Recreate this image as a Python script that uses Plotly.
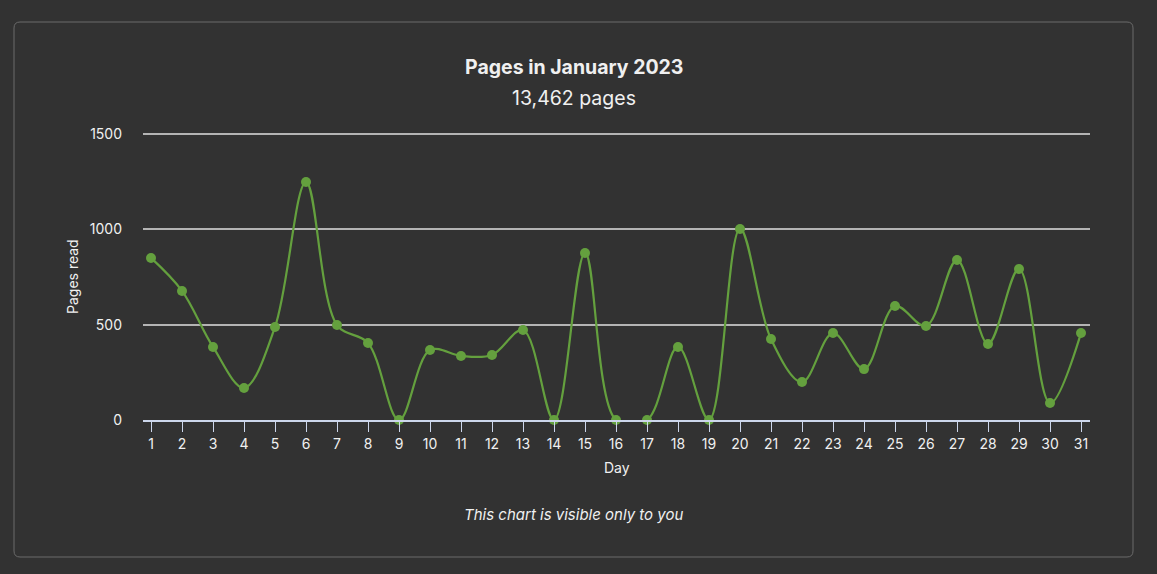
import plotly.graph_objects as go

days = list(range(1, 32))
pages = [850, 677, 383, 168, 488, 1248, 498, 404, 0, 367, 336, 341, 472, 0, 876,
         0, 0, 383, 0, 1002, 425, 199, 456, 267, 598, 493, 839, 399, 792, 89, 456]
y_ticks = [0, 500, 1000, 1500]
title_text = "Pages in January 2023"
subtitle_text = "13,462 pages"
footer_text = "This chart is visible only to you"

W, H = 1157, 574
L, R, T, B = 143, 1090, 130, 420
pw, ph = R - L, B - T
Y_TOP = 1500 * (B - T) / (B - 134)

def px(x):
    return (x - L) / pw

def py(y):
    return (B - y) / ph

FONT = "Inter, 'Open Sans', sans-serif"
BG = "#323232"
GREEN = "#64a03e"
TXT = "#f0f0f0"

fig = go.Figure()
fig.add_trace(go.Scatter(
    x=days, y=pages, mode="lines+markers",
    line=dict(color=GREEN, width=2.2, shape="spline", smoothing=1.0),
    marker=dict(color=GREEN, size=10),
    hoverinfo="x+y", showlegend=False, cliponaxis=False,
))

# card border with rounded corners
x0, x1, y0, y1 = px(14), px(1133), py(557), py(22)
rx, ry = 6 / pw, 6 / ph
path = (f"M {x0+rx},{y1} L {x1-rx},{y1} Q {x1},{y1} {x1},{y1-ry} "
        f"L {x1},{y0+ry} Q {x1},{y0} {x1-rx},{y0} L {x0+rx},{y0} "
        f"Q {x0},{y0} {x0},{y0+ry} L {x0},{y1-ry} Q {x0},{y1} {x0+rx},{y1} Z")
fig.add_shape(type="path", path=path, xref="paper", yref="paper",
              line=dict(color="#6a6a6a", width=1), layer="below")

annos = [
    dict(text=f"<b>{title_text}</b>", x=px(573.5), y=py(67), size=19.5),
    dict(text=subtitle_text, x=px(573.5), y=py(98), size=19.5),
    dict(text=f"<i>{footer_text}</i>", x=px(573.5), y=py(514), size=15),
    dict(text="Day", x=px(616.5), y=py(467), size=14),
]
for a in annos:
    fig.add_annotation(text=a["text"], x=a["x"], y=a["y"], xref="paper", yref="paper",
                       showarrow=False, xanchor="center", yanchor="middle",
                       font=dict(family=FONT, size=a["size"], color=TXT))
fig.add_annotation(text="Pages read", x=px(72), y=py(277), xref="paper", yref="paper",
                   showarrow=False, textangle=-90, xanchor="center", yanchor="middle",
                   font=dict(family=FONT, size=14, color=TXT))

fig.update_layout(
    width=W, height=H,
    margin=dict(l=L, r=W - R, t=T, b=H - B, pad=0),
    paper_bgcolor=BG, plot_bgcolor=BG,
    font=dict(family=FONT, size=14, color=TXT),
    xaxis=dict(range=[1 - 8 / 31, 31 + 9 / 31], tickmode="array", tickvals=days,
               ticktext=[str(d) for d in days], showgrid=False, zeroline=False,
               showline=True, linecolor="#ccd6eb", linewidth=2,
               ticks="outside", ticklen=10, tickcolor="#ccd6eb", tickwidth=1,
               tickfont=dict(size=14, color=TXT), fixedrange=True),
    yaxis=dict(range=[0, Y_TOP], tickmode="array", tickvals=y_ticks,
               ticktext=[str(v) for v in y_ticks], showgrid=True,
               gridcolor="#b4b4b4", gridwidth=1.7, zeroline=False, showline=False,
               ticks="", ticklabelstandoff=20,
               tickfont=dict(size=14, color=TXT), fixedrange=True),
)

fig.write_html("out.html")
